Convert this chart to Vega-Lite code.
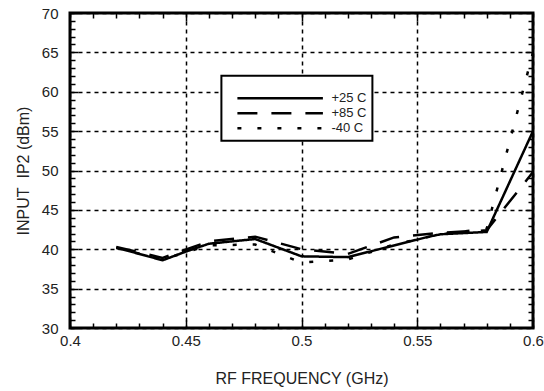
{
  "$schema": "https://vega.github.io/schema/vega-lite/v6.json",
  "width": 463,
  "height": 315,
  "autosize": "none",
  "padding": {"left": 70, "top": 13, "right": 11, "bottom": 63},
  "background": "white",
  "config": {
    "view": {"stroke": "black", "strokeWidth": 3},
    "font": "Liberation Sans",
    "legend": {"strokeWidth": 2},
    "axis": {
      "labelFont": "Liberation Sans",
      "titleFont": "Liberation Sans",
      "labelFontSize": 15,
      "titleFontSize": 16,
      "titleFontWeight": "normal",
      "labelColor": "#222",
      "titleColor": "#222",
      "tickColor": "black",
      "domain": false
    }
  },
  "datasets": {
    "curves": [
      {"f": 0.42, "ip2": 40.2, "temp": "+25 C"},
      {"f": 0.44, "ip2": 38.6, "temp": "+25 C"},
      {"f": 0.45, "ip2": 39.7, "temp": "+25 C"},
      {"f": 0.46, "ip2": 40.7, "temp": "+25 C"},
      {"f": 0.48, "ip2": 41.3, "temp": "+25 C"},
      {"f": 0.50, "ip2": 39.1, "temp": "+25 C"},
      {"f": 0.52, "ip2": 39.0, "temp": "+25 C"},
      {"f": 0.555, "ip2": 41.6, "temp": "+25 C"},
      {"f": 0.56, "ip2": 41.9, "temp": "+25 C"},
      {"f": 0.58, "ip2": 42.2, "temp": "+25 C"},
      {"f": 0.60, "ip2": 55.0, "temp": "+25 C"},
      {"f": 0.42, "ip2": 40.3, "temp": "+85 C"},
      {"f": 0.44, "ip2": 38.9, "temp": "+85 C"},
      {"f": 0.46, "ip2": 41.0, "temp": "+85 C"},
      {"f": 0.48, "ip2": 41.6, "temp": "+85 C"},
      {"f": 0.50, "ip2": 40.0, "temp": "+85 C"},
      {"f": 0.52, "ip2": 39.4, "temp": "+85 C"},
      {"f": 0.54, "ip2": 41.5, "temp": "+85 C"},
      {"f": 0.56, "ip2": 42.1, "temp": "+85 C"},
      {"f": 0.58, "ip2": 42.4, "temp": "+85 C"},
      {"f": 0.60, "ip2": 49.8, "temp": "+85 C"},
      {"f": 0.42, "ip2": 40.2, "temp": "-40 C"},
      {"f": 0.44, "ip2": 38.7, "temp": "-40 C"},
      {"f": 0.46, "ip2": 40.5, "temp": "-40 C"},
      {"f": 0.48, "ip2": 40.6, "temp": "-40 C"},
      {"f": 0.50, "ip2": 38.3, "temp": "-40 C"},
      {"f": 0.52, "ip2": 38.7, "temp": "-40 C"},
      {"f": 0.54, "ip2": 40.6, "temp": "-40 C"},
      {"f": 0.56, "ip2": 41.9, "temp": "-40 C"},
      {"f": 0.58, "ip2": 42.6, "temp": "-40 C"},
      {"f": 0.60, "ip2": 65.0, "temp": "-40 C"}
    ]
  },
  "data": {"name": "curves"},
  "layer": [
    {
      "mark": {"type": "line", "color": "black", "strokeWidth": 2.5, "clip": true},
      "encoding": {
        "x": {
          "field": "f", "type": "quantitative",
          "scale": {"domain": [0.4, 0.6], "nice": false, "zero": false},
          "axis": {
            "orient": "bottom",
            "values": [0.4, 0.45, 0.5, 0.55, 0.6],
            "format": "~g",
            "tickSize": -8, "tickWidth": 1.5,
            "grid": true, "gridDash": [4, 4], "gridColor": "black", "gridWidth": 1.5, "gridOpacity": 1,
            "labelPadding": 13,
            "labelFlush": false,
            "title": "RF FREQUENCY (GHz)",
            "titlePadding": 22
          }
        },
        "y": {
          "field": "ip2", "type": "quantitative",
          "scale": {"domain": [30, 70], "nice": false, "zero": false},
          "axis": {
            "orient": "left",
            "values": [30, 35, 40, 45, 50, 55, 60, 65, 70],
            "tickSize": -8, "tickWidth": 1.5,
            "grid": true, "gridDash": [4, 4], "gridColor": "black", "gridWidth": 1.5, "gridOpacity": 1,
            "labelPadding": 20,
            "labelFlush": false,
            "title": "INPUT\u00a0 IP2 (dBm)",
            "titlePadding": 10
          }
        },
        "strokeDash": {
          "field": "temp", "type": "nominal",
          "scale": {"domain": ["+25 C", "+85 C", "-40 C"], "range": [[1, 0], [20, 14], [4, 16]]},
          "legend": {
            "orient": "none",
            "legendX": 151.4,
            "legendY": 62.7,
            "title": " ",
            "titleFontSize": 8,
            "titlePadding": 2,
            "padding": 5,
            "strokeColor": "black",
            "fillColor": "white",
            "symbolType": "M-13.25,0H1",
            "symbolSize": 144,
            "symbolStrokeWidth": 2.5,
            "symbolStrokeColor": "black",
            "symbolFillColor": "transparent",
            "symbolOffset": 83,
            "labelFontSize": 13,
            "labelFont": "Liberation Sans",
            "labelColor": "#222",
            "labelOffset": 7,
            "rowPadding": 0
          }
        }
      }
    },
    {
      "mark": {"type": "point", "opacity": 0},
      "encoding": {
        "x": {
          "field": "f", "type": "quantitative",
          "axis": {
            "orient": "bottom",
            "values": [0.41, 0.42, 0.43, 0.44, 0.46, 0.47, 0.48, 0.49, 0.51, 0.52, 0.53, 0.54, 0.56, 0.57, 0.58, 0.59],
            "tickSize": -5, "tickWidth": 1.5, "labels": false, "grid": false, "title": null
          }
        },
        "y": {
          "field": "ip2", "type": "quantitative",
          "axis": {
            "orient": "left",
            "values": [31, 32, 33, 34, 36, 37, 38, 39, 41, 42, 43, 44, 46, 47, 48, 49, 51, 52, 53, 54, 56, 57, 58, 59, 61, 62, 63, 64, 66, 67, 68, 69],
            "tickSize": -5, "tickWidth": 1.5, "labels": false, "grid": false, "title": null
          }
        }
      }
    },
    {
      "mark": {"type": "point", "opacity": 0},
      "encoding": {
        "x": {
          "field": "f", "type": "quantitative",
          "axis": {
            "orient": "top",
            "values": [0.41, 0.42, 0.43, 0.44, 0.46, 0.47, 0.48, 0.49, 0.51, 0.52, 0.53, 0.54, 0.56, 0.57, 0.58, 0.59],
            "tickSize": -5, "tickWidth": 1.5, "labels": false, "grid": false, "title": null
          }
        },
        "y": {
          "field": "ip2", "type": "quantitative",
          "axis": {
            "orient": "right",
            "values": [31, 32, 33, 34, 36, 37, 38, 39, 41, 42, 43, 44, 46, 47, 48, 49, 51, 52, 53, 54, 56, 57, 58, 59, 61, 62, 63, 64, 66, 67, 68, 69],
            "tickSize": -5, "tickWidth": 1.5, "labels": false, "grid": false, "title": null
          }
        }
      }
    },
    {
      "mark": {"type": "point", "opacity": 0},
      "encoding": {
        "x": {
          "field": "f", "type": "quantitative",
          "axis": {
            "orient": "top",
            "values": [0.45, 0.5, 0.55],
            "tickSize": -8, "tickWidth": 1.5, "labels": false, "grid": false, "title": null
          }
        },
        "y": {
          "field": "ip2", "type": "quantitative",
          "axis": {
            "orient": "right",
            "values": [35, 40, 45, 50, 55, 60, 65],
            "tickSize": -8, "tickWidth": 1.5, "labels": false, "grid": false, "title": null
          }
        }
      }
    }
  ],
  "resolve": {"axis": {"x": "independent", "y": "independent"}}
}
